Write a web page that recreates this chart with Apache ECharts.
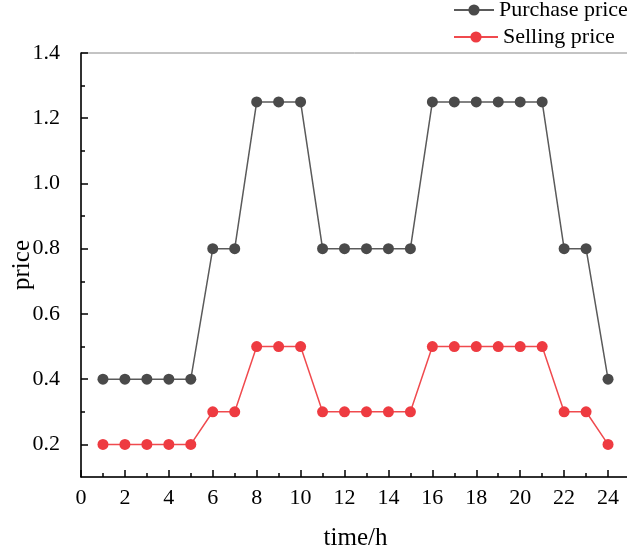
<!DOCTYPE html>
<html>
<head>
<meta charset="utf-8">
<script src="https://cdn.jsdelivr.net/npm/echarts@6/dist/echarts.min.js"></script>
<style>
  html, body { margin: 0; padding: 0; background: #fff; }
  #chart { width: 627px; height: 552px; }
</style>
</head>
<body>
<div id="chart"></div>
<script>
// hours and prices
var hours = [1, 2, 3, 4, 5, 6, 7, 8, 9, 10, 11, 12, 13, 14, 15, 16, 17, 18, 19, 20, 21, 22, 23, 24];
var purchase = [0.4, 0.4, 0.4, 0.4, 0.4, 0.8, 0.8, 1.25, 1.25, 1.25, 0.8, 0.8, 0.8, 0.8, 0.8, 1.25, 1.25, 1.25, 1.25, 1.25, 1.25, 0.8, 0.8, 0.4];
var selling = [0.2, 0.2, 0.2, 0.2, 0.2, 0.3, 0.3, 0.5, 0.5, 0.5, 0.3, 0.3, 0.3, 0.3, 0.3, 0.5, 0.5, 0.5, 0.5, 0.5, 0.5, 0.3, 0.3, 0.2];

// tick labels
var xMajor = [0, 2, 4, 6, 8, 10, 12, 14, 16, 18, 20, 22, 24];
var xMinor = [1, 3, 5, 7, 9, 11, 13, 15, 17, 19, 21, 23];
var yMajor = [0.2, 0.4, 0.6, 0.8, 1.0, 1.2, 1.4];
var yMinor = [0.3, 0.5, 0.7, 0.9, 1.1, 1.3];

var font = "'Liberation Serif', 'Times New Roman', serif";

function pairs(vals) {
  return hours.map(function (h, i) { return [h, vals[i]]; });
}

var chart = echarts.init(document.getElementById('chart'));

var legendText = { fontFamily: font, fontSize: 22, color: '#000' };

var option = {
  animation: false,
  textStyle: { fontFamily: font },
  grid: {
    left: 81, right: -3, top: 53, bottom: 75,
    outerBoundsMode: 'none', containLabel: false,
    show: true, borderColor: '#888', borderWidth: 1
  },
  legend: [{
    left: 453, top: -1, padding: 0,
    itemWidth: 40, itemHeight: 14,
    textStyle: legendText,
    data: ['Purchase price']
  }, {
    left: 453, top: 26, padding: 0,
    itemWidth: 44, itemHeight: 14,
    textStyle: legendText,
    data: ['Selling price']
  }],
  xAxis: [{
    type: 'value', min: 0, max: 25,
    name: 'time/h', nameLocation: 'middle', nameGap: 49, nameMoveOverlap: false,
    nameTextStyle: { fontFamily: font, fontSize: 25, color: '#000' },
    axisLine: { lineStyle: { color: '#000', width: 1.5 } },
    axisTick: { inside: true, length: 7, customValues: xMajor, lineStyle: { color: '#000', width: 1.5 } },
    axisLabel: { customValues: xMajor, fontFamily: font, fontSize: 22, color: '#000', margin: 10 },
    splitLine: { show: false }
  }, {
    type: 'value', min: 0, max: 25, position: 'bottom',
    axisLine: { show: false },
    axisTick: { inside: true, length: 4, customValues: xMinor, lineStyle: { color: '#000', width: 1.5 } },
    axisLabel: { show: false },
    splitLine: { show: false }
  }],
  yAxis: [{
    type: 'value', min: 0.1, max: 1.4,
    name: 'price', nameLocation: 'middle', nameGap: 46, nameMoveOverlap: false,
    nameTextStyle: { fontFamily: font, fontSize: 25, color: '#000' },
    axisLine: { show: true, lineStyle: { color: '#000', width: 1.5 } },
    axisTick: { show: true, inside: true, length: 7, customValues: yMajor, lineStyle: { color: '#000', width: 1.5 } },
    axisLabel: {
      customValues: yMajor, fontFamily: font, fontSize: 22, color: '#000', margin: 21,
      formatter: function (v) { return v.toFixed(1); }
    },
    splitLine: { show: false }
  }, {
    type: 'value', min: 0.1, max: 1.4, position: 'left',
    axisLine: { show: false },
    axisTick: { show: true, inside: true, length: 4, customValues: yMinor, lineStyle: { color: '#000', width: 1.5 } },
    axisLabel: { show: false },
    splitLine: { show: false }
  }],
  series: [{
    name: 'Purchase price',
    type: 'line',
    data: pairs(purchase),
    symbol: 'circle', symbolSize: 11,
    itemStyle: { color: '#4a4a4a' },
    lineStyle: { color: '#5a5a5a', width: 1.5 }
  }, {
    name: 'Selling price',
    type: 'line',
    data: pairs(selling),
    symbol: 'circle', symbolSize: 11,
    itemStyle: { color: '#ee3b41' },
    lineStyle: { color: '#f04a4e', width: 1.5 }
  }]
};

chart.setOption(option);
</script>
</body>
</html>
